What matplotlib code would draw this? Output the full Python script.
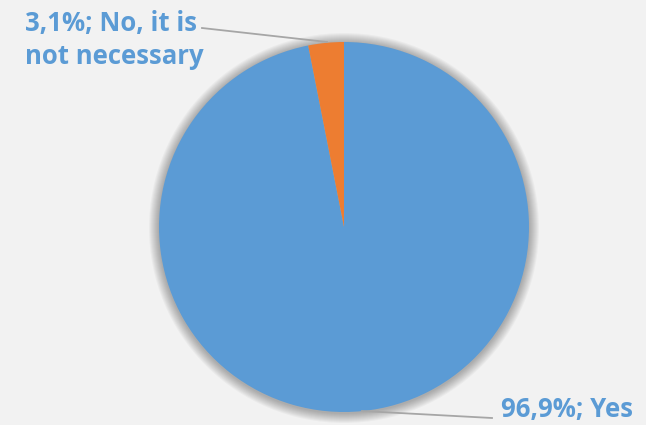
import matplotlib.pyplot as plt
from matplotlib.patches import Circle

# answers and their shares (%)
labels = ["Yes", "No, it is not necessary"]
shares = [96.9, 3.1]
colors = ["#5B9BD5", "#ED7D31"]
label_texts = ["96,9%; Yes", "3,1%; No, it is\nnot necessary"]

W, H = 646, 425
fig = plt.figure(figsize=(W / 100, H / 100), dpi=100)
fig.patch.set_facecolor("#F2F2F2")
ax = fig.add_axes([0, 0, 1, 1])

cx, cy, r = 344, H - 227, 185

# soft shadow around the pie
for i in range(10):
    ax.add_patch(Circle((cx, cy - 1), r + 1 + i, color="black",
                        alpha=0.03, lw=0, zorder=0))

wedges, _ = ax.pie(shares, colors=colors, startangle=90, counterclock=False,
                   center=(cx, cy), radius=r, frame=True,
                   wedgeprops=dict(linewidth=0))
ax.set_xlim(0, W)
ax.set_ylim(0, H)
ax.set_aspect("equal")
ax.axis("off")

font = dict(family=["Open Sans", "DejaVu Sans"], fontsize=18.5,
            fontweight="bold", color="#5B9BD5")

# leader lines
ax.plot([202, 327], [H - 28, H - 42], color="#A6A6A6", lw=1.3, zorder=3)
ax.plot([362, 492], [H - 411, H - 418], color="#A6A6A6", lw=1.3, zorder=3)

ax.text(25, H - 40, label_texts[1], ha="left", va="center",
        linespacing=1.32, **font)
ax.text(501, H - 410, label_texts[0], ha="left", va="center", **font)

fig.savefig("out.png", dpi=100, facecolor=fig.get_facecolor())
